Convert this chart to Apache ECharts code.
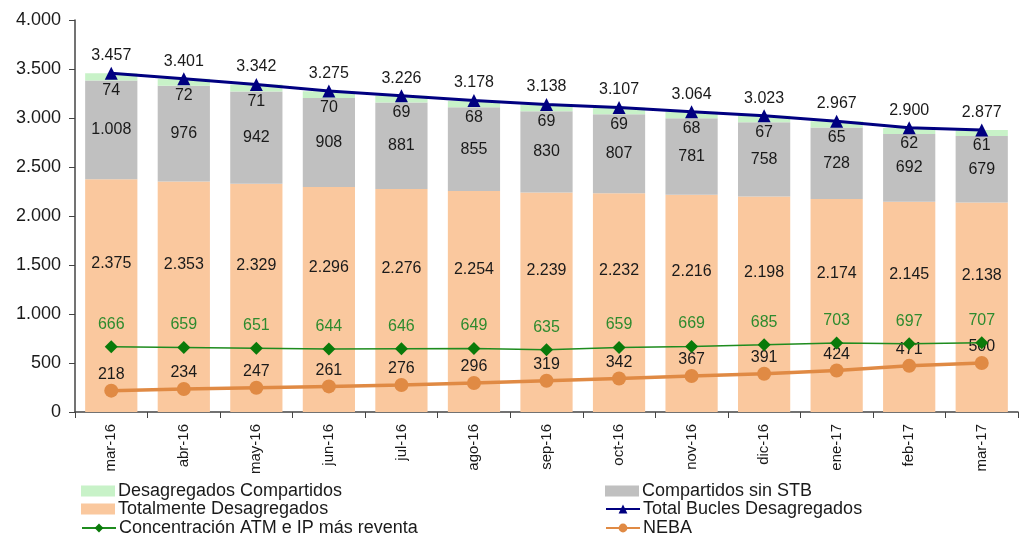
<!DOCTYPE html>
<html>
<head>
<meta charset="utf-8">
<script src="https://cdn.jsdelivr.net/npm/echarts@6/dist/echarts.min.js"></script>
<style>
  html, body { margin: 0; padding: 0; background: #fff; }
  #chart { width: 1020px; height: 537px; }
</style>
</head>
<body>
<div id="chart"></div>
<script>
const categories = ['mar-16', 'abr-16', 'may-16', 'jun-16', 'jul-16', 'ago-16', 'sep-16', 'oct-16', 'nov-16', 'dic-16', 'ene-17', 'feb-17', 'mar-17'];
const totalmente = [2375, 2353, 2329, 2296, 2276, 2254, 2239, 2232, 2216, 2198, 2174, 2145, 2138];
const sinStb = [1008, 976, 942, 908, 881, 855, 830, 807, 781, 758, 728, 692, 679];
const compartidos = [74, 72, 71, 70, 69, 68, 69, 69, 68, 67, 65, 62, 61];
const totalBucles = [3457, 3401, 3342, 3275, 3226, 3178, 3138, 3107, 3064, 3023, 2967, 2900, 2877];
const concentracion = [666, 659, 651, 644, 646, 649, 635, 659, 669, 685, 703, 697, 707];
const neba = [218, 234, 247, 261, 276, 296, 319, 342, 367, 391, 424, 471, 500];

// miles con punto
const fmt = (v) => String(v).replace(/\B(?=(\d{3})+(?!\d))/g, '.');

const chart = echarts.init(document.getElementById('chart'));
const font = 'Liberation Sans, Arial, sans-serif';
const labelBase = { show: true, fontFamily: font, fontSize: 16, color: '#1a1a1a', formatter: (p) => fmt(p.value) };

// una leyenda por entrada, dos columnas
const legendItem = (name, left, top, icon) => ({
  left: left,
  top: top,
  icon: icon,
  itemWidth: 34,
  itemHeight: 11,
  itemGap: 0,
  padding: 0,
  textStyle: { fontFamily: 'Liberation Sans Narrow, Arial Narrow, sans-serif', fontSize: 18, color: '#1a1a1a', padding: [0, 0, 0, -2] },
  data: [name]
});

const option = {
  animation: false,
  grid: { left: 75, right: 2, top: 20, bottom: 125 },
  legend: [
    legendItem('Desagregados Compartidos', 81, 482, 'rect'),
    legendItem('Totalmente Desagregados', 81, 500, 'rect'),
    legendItem('Concentración ATM e IP más reventa', 81, 519),
    legendItem('Compartidos sin STB', 605, 482, 'rect'),
    legendItem('Total Bucles Desagregados', 605, 500),
    legendItem('NEBA', 605, 519)
  ],
  xAxis: {
    type: 'category',
    data: categories,
    axisLine: { lineStyle: { color: '#444', width: 1.5 } },
    axisTick: { show: true, length: 6, lineStyle: { color: '#444' } },
    axisLabel: { rotate: 90, fontFamily: font, fontSize: 15, color: '#1a1a1a', margin: 12 }
  },
  yAxis: {
    type: 'value',
    min: 0,
    max: 4000,
    interval: 500,
    splitLine: { show: false },
    axisLine: { show: true, lineStyle: { color: '#444', width: 1.5 } },
    axisTick: { show: true, length: 6, lineStyle: { color: '#444' } },
    axisLabel: { fontFamily: font, fontSize: 18, color: '#1a1a1a', margin: 14, formatter: (v) => fmt(v) }
  },
  series: [
    {
      name: 'Totalmente Desagregados',
      type: 'bar',
      stack: 'bucles',
      barWidth: '72%',
      data: totalmente,
      itemStyle: { color: '#FAC89E' },
      label: { ...labelBase, position: 'inside', offset: [0, -32] }
    },
    {
      name: 'Compartidos sin STB',
      type: 'bar',
      stack: 'bucles',
      data: sinStb,
      itemStyle: { color: '#C0C0C0' },
      label: { ...labelBase, position: 'inside' }
    },
    {
      name: 'Desagregados Compartidos',
      type: 'bar',
      stack: 'bucles',
      data: compartidos,
      itemStyle: { color: '#C8F2C8' },
      label: { ...labelBase, position: 'bottom', distance: 2 }
    },
    {
      name: 'Total Bucles Desagregados',
      type: 'line',
      data: totalBucles,
      z: 5,
      symbol: 'triangle',
      symbolSize: 13,
      lineStyle: { color: '#000080', width: 3 },
      itemStyle: { color: '#000080' },
      label: { ...labelBase, position: 'top', distance: 3 }
    },
    {
      name: 'Concentración ATM e IP más reventa',
      type: 'line',
      data: concentracion,
      z: 6,
      symbol: 'diamond',
      symbolSize: 13,
      lineStyle: { color: '#1E8C1E', width: 1.5 },
      itemStyle: { color: '#0A7A0A' },
      label: { ...labelBase, color: '#2E8B2E', position: 'top', distance: 8 }
    },
    {
      name: 'NEBA',
      type: 'line',
      data: neba,
      z: 5,
      symbol: 'circle',
      symbolSize: 14,
      lineStyle: { color: '#E08A44', width: 3.5 },
      itemStyle: { color: '#E08A44' },
      label: { ...labelBase, position: 'top', distance: 1 }
    }
  ]
};

chart.setOption(option);

window.addEventListener('resize', () => {
  chart.resize();
});
</script>
</body>
</html>
